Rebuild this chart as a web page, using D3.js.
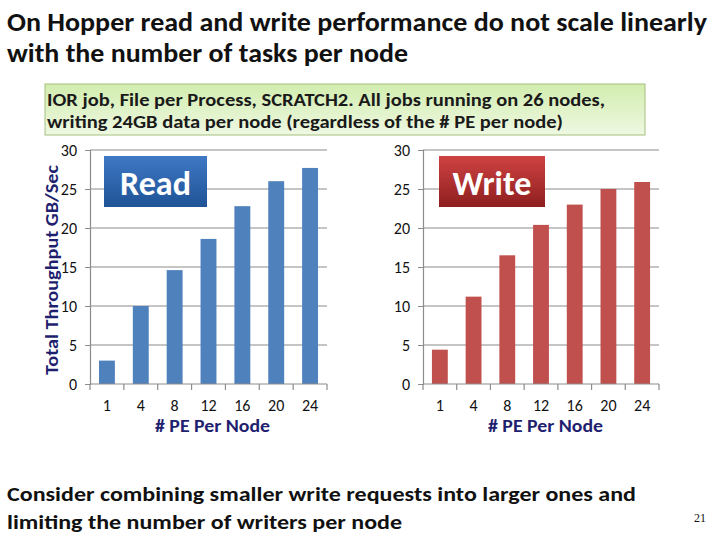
<!DOCTYPE html>
<html>
<head>
<meta charset="utf-8">
<script src="https://cdn.jsdelivr.net/npm/d3@7"></script>
<style>
  body { margin: 0; background: #fff; }
  svg { display: block; }
</style>
</head>
<body>
<script>
// values
var peLabels = ["1", "4", "8", "12", "16", "20", "24"]
var readValues = [3.0, 10.0, 14.6, 18.6, 22.8, 26.0, 27.7]
var writeValues = [4.4, 11.2, 16.5, 20.4, 23.0, 25.0, 25.9]
var yTicks = [0, 5, 10, 15, 20, 25, 30]

var font = "Carlito, 'Liberation Sans Narrow', 'DejaVu Sans Condensed', sans-serif"
var navy = "#1f1f6f"

var svg = d3.select("body").append("svg")
    .attr("width", 720)
    .attr("height", 540)
    .style("font-family", font)

var defs = svg.append("defs")
var addGrad = function(id, c1, c2){
    var g = defs.append("linearGradient").attr("id", id)
        .attr("x1", 0).attr("y1", 0).attr("x2", 0).attr("y2", 1)
    g.append("stop").attr("offset", "0%").attr("stop-color", c1)
    g.append("stop").attr("offset", "100%").attr("stop-color", c2)
}
addGrad("gBlue", "#3f78c4", "#1f5396")
addGrad("gRed", "#cf4242", "#8e1f1f")
addGrad("gGreen", "#d2edae", "#eef8e2")

// title
var title = ["On Hopper read and write performance do not scale linearly",
             "with the number of tasks per node"]
var titleW = [700, 401]
title.forEach(function(t, i){
    svg.append("text")
        .attr("x", 7).attr("y", 31 + i * 31)
        .attr("textLength", titleW[i]).attr("lengthAdjust", "spacingAndGlyphs")
        .style("font-size", "26px").style("font-weight", "bold").style("fill", "#111")
        .text(t)
})

// note box
svg.append("rect")
    .attr("x", 45).attr("y", 84).attr("width", 600).attr("height", 51)
    .attr("fill", "url(#gGreen)").attr("stroke", "#a6bf7e").attr("stroke-width", 1)
var note = ["IOR job, File per Process, SCRATCH2. All jobs running on 26 nodes,",
            "writing 24GB data per node (regardless of the # PE per node)"]
var noteW = [558, 516]
note.forEach(function(t, i){
    svg.append("text")
        .attr("x", 47).attr("y", 106 + i * 22)
        .attr("textLength", noteW[i]).attr("lengthAdjust", "spacingAndGlyphs")
        .style("font-size", "17px").style("font-weight", "bold").style("fill", "#1a1a1a")
        .text(t)
})

var y = d3.scaleLinear().domain([0, 30]).range([384, 150])

var drawChart = function(values, x0, x1, color, label, grad, box){
    var x = d3.scaleBand().domain(peLabels).range([x0, x1]).paddingInner(0.53).paddingOuter(0.265)
    var g = svg.append("g")

    // gridlines
    g.selectAll(".grid").data(yTicks.slice(1)).join("line")
        .attr("x1", x0).attr("x2", x1)
        .attr("y1", function(d){ return y(d) }).attr("y2", function(d){ return y(d) })
        .attr("stroke", "#8c8c8c").attr("stroke-width", 1.2)

    var ya = g.append("g").attr("transform", "translate(" + x0 + ",0)")
        .call(d3.axisLeft(y).tickValues(yTicks).tickSize(5).tickPadding(8))
    ya.select(".domain").attr("stroke", "#8c8c8c").attr("stroke-width", 1.2)
    ya.selectAll(".tick line").attr("stroke", "#8c8c8c")
    ya.selectAll("text").style("font-size", "16px").style("font-family", font).attr("fill", "#111")

    g.selectAll(".bar").data(values).join("rect")
        .attr("x", function(d, i){ return x(peLabels[i]) })
        .attr("width", x.bandwidth())
        .attr("y", function(d){ return y(d) })
        .attr("height", function(d){ return y(0) - y(d) })
        .attr("fill", color)

    // x axis with ticks at band edges
    var xa = g.append("g").attr("transform", "translate(0," + y(0) + ")")
    xa.append("line").attr("x1", x0).attr("x2", x1).attr("stroke", "#8c8c8c").attr("stroke-width", 1.2)
    d3.range(peLabels.length + 1).forEach(function(i){
        var px = x0 + i * (x1 - x0) / peLabels.length
        xa.append("line").attr("x1", px).attr("x2", px).attr("y1", 0).attr("y2", 6)
            .attr("stroke", "#8c8c8c").attr("stroke-width", 1.2)
    })
    xa.selectAll(".lab").data(peLabels).join("text")
        .attr("x", function(d){ return x(d) + x.bandwidth() / 2 })
        .attr("y", 27)
        .attr("text-anchor", "middle")
        .style("font-size", "16px").style("fill", "#111")
        .text(function(d){ return d })

    svg.append("text")
        .attr("x", x0 + 65).attr("y", 432)
        .attr("textLength", 115).attr("lengthAdjust", "spacingAndGlyphs")
        .style("font-size", "17px").style("font-weight", "bold").style("fill", navy)
        .text("# PE Per Node")

    // label box
    svg.append("rect")
        .attr("x", box[0]).attr("y", 156).attr("width", box[1]).attr("height", 51)
        .attr("fill", grad)
    svg.append("text")
        .attr("x", box[0] + box[1] / 2).attr("y", 195)
        .attr("text-anchor", "middle")
        .style("font-size", "34px").style("font-weight", "bold").style("fill", "#fff")
        .text(label)
}

drawChart(readValues, 90, 327, "#4f81bd", "Read", "url(#gBlue)", [104, 103])
drawChart(writeValues, 423, 659, "#c0504d", "Write", "url(#gRed)", [439, 106])

svg.append("text")
    .attr("transform", "translate(58,375) rotate(-90)")
    .attr("textLength", 210).attr("lengthAdjust", "spacingAndGlyphs")
    .style("font-size", "18px").style("font-weight", "bold").style("fill", navy)
    .text("Total Throughput GB/Sec")

// bottom note
var foot = ["Consider combining smaller write requests into larger ones and",
            "limiting the number of writers per node"]
var footW = [629, 395]
foot.forEach(function(t, i){
    svg.append("text")
        .attr("x", 7).attr("y", 501 + i * 28)
        .attr("textLength", footW[i]).attr("lengthAdjust", "spacingAndGlyphs")
        .style("font-size", "21px").style("font-weight", "bold").style("fill", "#111")
        .text(t)
})

svg.append("text")
    .attr("x", 700).attr("y", 522)
    .attr("text-anchor", "middle")
    .style("font-size", "12px").style("font-family", "'Liberation Serif', serif").style("fill", "#111")
    .text("21")
</script>
</body>
</html>
